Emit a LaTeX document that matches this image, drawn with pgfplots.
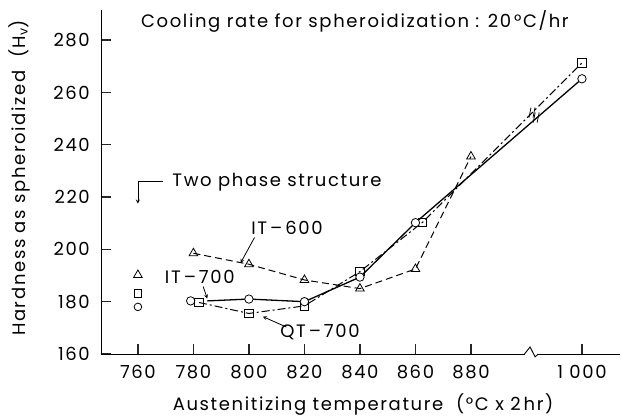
\documentclass[border=0pt]{standalone}
\usepackage{fontspec}
\setmainfont[LetterSpace=9]{Poppins}
\usepackage{pgfplots}
\pgfplotsset{compat=1.18}
\begin{document}
\fontsize{18pt}{20pt}\selectfont
\begin{tikzpicture}
\useasboundingbox (-101pt,-65pt) rectangle (521pt,354pt);
\begin{axis}[
  at={(0pt,0pt)}, anchor=south west,
  scale only axis, width=519pt, height=344pt,
  xmin=746.7, xmax=933.7, ymin=160, ymax=291.5,
  axis x line*=bottom, axis y line*=left,
  axis line style={line width=0.9pt},
  xtick align=inside, ytick align=inside,
  xtick style={black!85, line width=1.3pt},
  ytick style={black!85, line width=1.3pt},
  major tick length=10pt,
  xtick={760,780,800,820,840,860,880,920},
  xticklabels={760,780,800,820,840,860,880,{1~000}},
  ytick={160,180,200,220,240,260,280},
  /pgf/number format/assume math mode=true,
  xticklabel style={yshift=-5pt},
  yticklabel style={xshift=-5pt},
  xlabel={Austenitizing temperature ~(°C x 2\,hr)},
  ylabel={Hardness as spheroidized ~(H\textsubscript{v})},
  every axis x label/.style={at={(axis description cs:0.505,-0.148)}, anchor=center},
  every axis y label/.style={at={(axis description cs:-0.158,0.512)}, anchor=center, rotate=90},
  clip=false,
]
% IT-600: dashed with triangles
\addplot[black, line width=1pt, dash pattern=on 7pt off 4pt,
  mark=triangle, mark size=5pt, mark options={solid, fill=white, line width=0.8pt}]
  coordinates {(780,198.5) (800,194.3) (820,188.3) (840,185.0) (860,192.5) (880,235.5)};
% QT-700: dash-dot with squares
\addplot[black, line width=1pt, dash pattern=on 8pt off 3pt on 2pt off 3pt,
  mark=square, mark size=4.2pt, mark options={solid, fill=white, line width=0.8pt}]
  coordinates {(782,179.7) (800,175.5) (820,178.4) (840,191.5) (862.5,210.3) (920,271.3)};
% IT-700: solid with circles (line starts just right of the 780 points)
\addplot[black, line width=1.3pt, mark=*, mark size=4.2pt, mark indices={2,3,4,5,6},
  mark options={fill=white, line width=0.8pt}]
  coordinates {(785,180.3) (800,181.0) (820,180.0) (840,189.4) (860,210.2) (920,265.2)};
\addplot[black, only marks, mark=o, mark size=4.2pt, mark options={line width=0.8pt}]
  coordinates {(779,180.3)};
% two phase structure at 760
\addplot[black, only marks, mark=triangle, mark size=5pt, mark options={line width=0.8pt}]
  coordinates {(760,190.2)};
\addplot[black, only marks, mark=square, mark size=3.8pt, mark options={line width=0.8pt}]
  coordinates {(760,183.2)};
\addplot[black, only marks, mark=o, mark size=3.8pt, mark options={line width=0.8pt}]
  coordinates {(760,178.0)};

% break in the x axis
\fill[white] (axis cs:899.3,158.5) rectangle (axis cs:904.3,161.5);
\draw[line width=0.9pt] (axis cs:899.3,160) -- (axis cs:901.3,162.7)
  -- (axis cs:903.1,158.9) -- (axis cs:904.3,160);
% break marks on the lines to 1000
\draw[line width=0.8pt, shift={(axis cs:902,252.3)}] (-3pt,-5pt) -- (-1pt,5pt) (1pt,-5pt) -- (3pt,5pt);
\draw[line width=0.8pt, shift={(axis cs:903.5,250.4)}] (-3pt,-5pt) -- (-1pt,5pt) (1pt,-5pt) -- (3pt,5pt);

% annotations
\node at (axis cs:838.2,287.0) {Cooling rate for spheroidization : 20\,°C/hr};
\node[anchor=west] at (axis cs:770.2,225.6) {Two phase structure};
\draw[line width=0.8pt, -stealth] (axis cs:769,225.8) -- (axis cs:760,225.8) -- (axis cs:760,217.5);
\node at (axis cs:813.7,208.2) {IT\,--\,600};
\draw[line width=0.8pt, -stealth] (axis cs:802,204.5) -- (axis cs:797,194.8);
\node at (axis cs:782.3,189.3) {IT\,--\,700};
\draw[line width=0.8pt, -stealth] (axis cs:783.5,185.8) -- (axis cs:785,181.2);
\node at (axis cs:825.6,168.4) {QT\,--\,700};
\draw[line width=0.8pt, -stealth] (axis cs:813.5,170.3) -- (axis cs:805,174.3);
\end{axis}
\end{tikzpicture}
\end{document}
